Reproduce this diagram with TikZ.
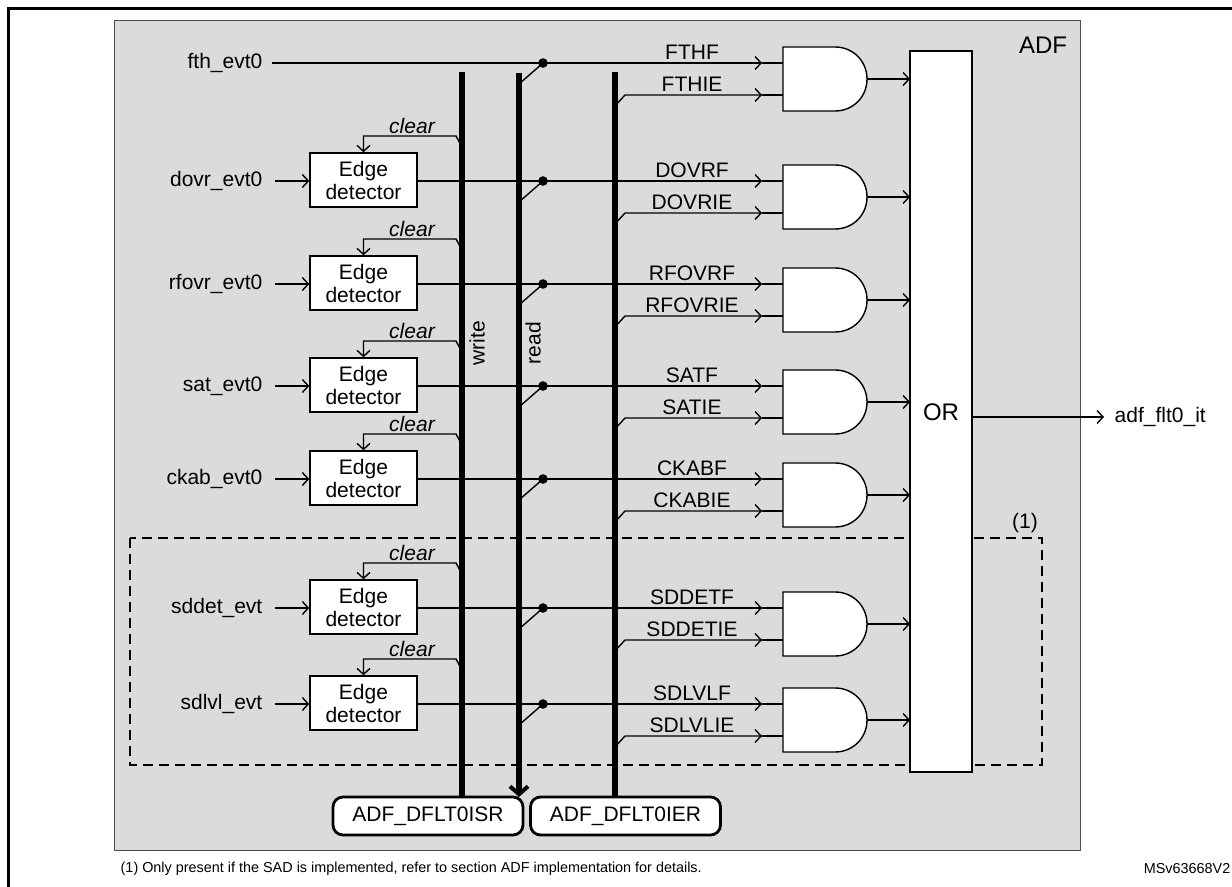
\documentclass[tikz,border=0pt]{standalone}
\usepackage{fontspec}
\setmainfont{Liberation Sans}
\usetikzlibrary{arrows.meta}
\begin{document}
\begin{tikzpicture}[x=0.5pt,y=-0.5pt,line width=0.7pt,
  arr/.style={-{Straight Barb[length=3pt,width=6.5pt]}},
  bus/.style={line width=2.6pt},
  lbl/.style={font=\fontsize{10.5}{12}\selectfont,inner sep=1pt},
  ed/.style={draw,fill=white,minimum width=53.5pt,minimum height=27pt,align=center,inner sep=0pt,font=\fontsize{10.5}{11.5}\selectfont},
  reg/.style={draw,fill=white,rounded corners=5pt,line width=1.4pt,minimum width=95pt,minimum height=19pt,inner sep=0pt,font=\fontsize{10.5}{12}\selectfont}]
\useasboundingbox (0,0) rectangle (1232,887);
% frame
\draw[line width=1.5pt] (8,887) -- (8,9) -- (1240,9);
% ADF box
\fill[gray!28] (114,21) rectangle (1080,850);
\draw[gray!60!black,line width=0.5pt] (114,21) rectangle (1080,850);
\node[lbl,font=\fontsize{12}{14}\selectfont] (adf) at (1043,45) {ADF};
% dashed region
\draw[dash pattern=on 5pt off 3pt,line width=0.6pt] (130,538) rectangle (1042,765);
\node[lbl] (one) at (1025,523) {(1)};
% OR
\node[draw,fill=white,minimum width=31pt,minimum height=360.5pt,inner sep=0pt] (or) at (941,411.5) {};
\node[lbl,font=\fontsize{12}{14}\selectfont] at (941,412) {OR};
\node[lbl,anchor=west] (out) at (1112,417) {adf\_flt0\_it};
\draw[arr] (or.east |- 0,417) -- ([xshift=-4pt]out.west);
% registers
\node[reg] (isr) at (428,816) {ADF\_DFLT0ISR};
\node[reg] (ier) at (625.5,816) {ADF\_DFLT0IER};
% buses
\draw[bus] (462,72) -- (isr.north -| 462,0);
\draw[bus,-{Straight Barb[length=4pt,width=9pt,line width=2pt]}] (519,73) -- (519,797);
\draw[bus] (615,72) -- (615,797);
\node[lbl,rotate=90] (wr) at (477,343) {write};
\node[lbl,rotate=90] (rd) at (533,343) {read};
% fth row
\node[lbl,anchor=east] (in0) at (265,63) {fth\_evt0};
\newcommand{\gaterow}[4]{%
  \draw[arr] (#1) -- (762,#2);
  \draw (762,#2) -- (783,#2);
  \fill (543,#2) circle (2.4pt);
  \draw (543,#2) -- (519,#2+21);
  \draw[arr] (615,#2+43) -- (625,#2+32) -- (762,#2+32);
  \draw (762,#2+32) -- (783,#2+32);
  \node[lbl,anchor=south] at (692,#2-1) {#3};
  \node[lbl,anchor=south] at (692,#2+31) {#4};
  \draw[fill=white] (783,#2-16) -- (835,#2-16) .. controls (853,#2-16) and (867,#2-2) .. (867,#2+16)
     .. controls (867,#2+34) and (853,#2+48) .. (835,#2+48) -- (783,#2+48) -- cycle;
  \draw[arr] (867,#2+16) -- (910,#2+16);
}
\coordinate (s0) at (272,63);
\gaterow{s0}{63}{FTHF}{FTHIE}
\foreach \n/\lab/\r/\F/\IE in {1/dovr\_evt0/181/DOVRF/DOVRIE,2/rfovr\_evt0/284/RFOVRF/RFOVRIE,
  3/sat\_evt0/386/SATF/SATIE,4/ckab\_evt0/479/CKABF/CKABIE,5/sddet\_evt/608/SDDETF/SDDETIE,
  6/sdlvl\_evt/704/SDLVLF/SDLVLIE}{
  \node[ed] (ed\n) at (363.5,\r-1) {Edge\\detector};
  \node[lbl,anchor=east] (in\n) at (265,\r) {\lab};
  \draw[arr] ([xshift=5pt]in\n.east) -- (ed\n.west |- 0,\r);
  \coordinate (cw\n) at (462,\r-34);
  \draw[arr] (cw\n) -- (456,\r-45) -- (363.5,\r-45) -- (ed\n.north);
  \node[lbl,font=\fontsize{10.5}{12}\selectfont\itshape] at (412,\r-55) {clear};
  \coordinate (eo\n) at (ed\n.east |- 0,\r);
  \gaterow{eo\n}{\r}{\F}{\IE}
}
% footnotes
\node[anchor=west,inner sep=0pt,font=\fontsize{7.2}{8}\selectfont] (fn) at (120,869) {(1) Only present if the SAD is implemented, refer to section ADF implementation for details.};
\node[anchor=east,inner sep=0pt,font=\fontsize{7.2}{8}\selectfont] (ms) at (1231,869) {MSv63668V2};
\end{tikzpicture}
\end{document}
